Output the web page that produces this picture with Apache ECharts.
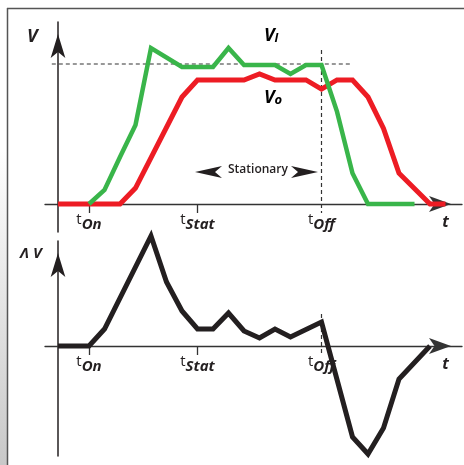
<!DOCTYPE html>
<html><head><meta charset="utf-8">
<script src="https://cdn.jsdelivr.net/npm/echarts@6/dist/echarts.min.js"></script>
<style>html,body{margin:0;padding:0;background:#fff}#c{width:464px;height:465px}</style>
</head><body><div id="c"></div>
<script>
// ---- data (time in arbitrary units, voltage in arbitrary units) ----
const tickTimes = [2, 9, 17];            // tOn, tStat, tOff
const tickNames = ['On', 'Stat', 'Off'];
const axisEndTime = 25;                  // position of the "t" label
const stationaryLevel = 10;              // dashed VI level
const dashedLevelRange = [-0.4, 19];
const inputV = [[2,0],[3,1.0],[4,3.36],[5,5.64],[6,11.14],[8,9.79],[10,9.79],[11,11.14],[12,9.93],[14,9.93],[15,9.29],[16,9.93],[17,9.93],[18,6.6],[19,2.2],[20,0],[23,0]];
const outputV = [[0,0],[4,0],[5,1.14],[8,7.64],[9,8.86],[12,8.86],[13,9.29],[14,8.86],[16,8.86],[17,8.21],[18,8.86],[19,8.86],[20,7.64],[21,5.4],[22,2.2],[24,0],[25,0]];
const deltaV = [[0,0],[2,0],[3,1.7],[6,11.0],[7,6.4],[8,3.5],[9,1.7],[10,1.7],[11,3.3],[12,1.5],[13,0.8],[14,1.7],[15,0.9],[17,2.4],[19,-9.1],[20,-10.8],[21,-8.2],[22,-3.3],[24,0]];
const offMarkerTop = [11, -0.65];
const offMarkerBottom = [3.2, -0.9];

// ---- layout ----
const X0 = 58, XS = 15.5;          // px of t=0, px per unit
const XL = 45, XR = 462;
const G1 = {zero: 204, scale: 14, min: -2, max: 13, interval: 1};
const G2 = {zero: 346, scale: 10, min: -11, max: 10.5, interval: 0.5};
[G1, G2].forEach(g => { g.top = g.zero - g.max * g.scale; g.bottom = g.zero - g.min * g.scale; });
const xmin = (XL - X0) / XS, xmax = (XR - X0) / XS;

const INK = '#231f20';
const FONT = '"Open Sans", "DejaVu Sans", sans-serif';
const labelRich = {
  t: {fontSize: 15, fontFamily: FONT, color: INK, verticalAlign: 'top', lineHeight: 20, padding: [0,0,6,0]},
  s: {fontSize: 15, fontFamily: FONT, fontWeight: 'bold', fontStyle: 'italic', color: INK, verticalAlign: 'bottom', lineHeight: 20},
  e: {fontSize: 16, fontFamily: FONT, fontWeight: 'bold', fontStyle: 'italic', color: INK, lineHeight: 20}
};
function fmt(v){
  const i = tickTimes.indexOf(v);
  if (i >= 0) return '{t|t}{s|' + tickNames[i] + '}';
  if (v === axisEndTime) return '{e|t}';
  return '';
}
function xAxis(gi, g){
  return {
    type: 'value', gridIndex: gi, min: xmin, max: xmax, position: 'bottom',
    offset: -(g.bottom - g.zero),
    axisLine: {onZero: false, symbol: ['none','arrow'], symbolSize: [12, 22], symbolOffset: [0, -11],
      lineStyle: {color: '#333', width: 1.3}},
    axisTick: {show: true, length: 9, customValues: tickTimes.slice(0, 2), lineStyle: {color: '#333', width: 1.3}},
    axisLabel: {show: true, customValues: tickTimes.concat([axisEndTime]), formatter: fmt, margin: 8, rich: labelRich},
    splitLine: {show: false}
  };
}
function yAxis(gi, g){
  return {
    type: 'value', gridIndex: gi, min: g.min, max: g.max, interval: g.interval,
    axisLine: {show: true, onZero: true, symbol: ['none','arrow'], symbolSize: [11, 24], symbolOffset: [0, -12],
      lineStyle: {color: INK, width: 1.5}},
    axisTick: {show: false}, axisLabel: {show: false}, splitLine: {show: false}
  };
}
function lineSeries(data, color, width, xi, yi, z){
  return {type: 'line', data: data, xAxisIndex: xi, yAxisIndex: yi, symbol: 'none', clip: false, z: z || 3,
    lineStyle: {color: color, width: width, join: 'miter', cap: 'butt'}, silent: true};
}

const chart = echarts.init(document.getElementById('c'), null, {renderer: 'canvas'});
chart.setOption({
  animation: false,
  backgroundColor: '#fff',
  grid: [
    {left: XL, right: 464 - XR, top: G1.top, height: G1.bottom - G1.top},
    {left: XL, right: 464 - XR, top: G2.top, height: G2.bottom - G2.top}
  ],
  xAxis: [xAxis(0, G1), xAxis(1, G2)],
  yAxis: [yAxis(0, G1), yAxis(1, G2)],
  series: [
    lineSeries([[dashedLevelRange[0], stationaryLevel],[dashedLevelRange[1], stationaryLevel]], '#333', 1.2, 0, 0, 2),
    lineSeries([[tickTimes[2], offMarkerTop[0]],[tickTimes[2], offMarkerTop[1]]], '#333', 1.2, 0, 0, 2),
    lineSeries([[tickTimes[2], offMarkerBottom[0]],[tickTimes[2], offMarkerBottom[1]]], '#333', 1.2, 1, 1, 2),
    lineSeries(outputV, '#ed1c24', 5, 0, 0, 3),
    lineSeries(inputV, '#39b54a', 4.5, 0, 0, 4),
    lineSeries(deltaV, INK, 5, 1, 1, 3)
  ].map((s, i) => { if (i < 3) s.lineStyle.type = [4, 3]; return s; }),
  graphic: [
    {type: 'rect', shape: {x: 0, y: 150, width: 7, height: 315}, silent: true,
      style: {fill: new echarts.graphic.LinearGradient(0, 0, 0, 1, [{offset: 0, color: '#ffffff'}, {offset: 1, color: '#c8c8c8'}])}},
    {type: 'line', shape: {x1: 7, y1: 8.5, x2: 464, y2: 8.5}, style: {stroke: '#555', lineWidth: 1.5}, silent: true},
    {type: 'line', shape: {x1: 7.5, y1: 8, x2: 7.5, y2: 465}, style: {stroke: '#555', lineWidth: 1.5}, silent: true},
    {type: 'text', left: 27, top: 28, silent: true,
      style: {text: 'V', font: 'italic bold 18px ' + FONT, fill: INK}},
    {type: 'text', left: 264, top: 27, silent: true,
      style: {text: '{a|V}{b|I}', rich: {a: {font: 'italic bold 18px ' + FONT, color: INK}, b: {font: 'italic bold 12px ' + FONT, color: INK, verticalAlign: 'bottom'}}}},
    {type: 'text', left: 264, top: 89, silent: true,
      style: {text: '{a|V}{b|o}', rich: {a: {font: 'italic bold 18px ' + FONT, color: INK}, b: {font: 'italic bold 13px ' + FONT, color: INK, verticalAlign: 'bottom'}}}},
    {type: 'text', left: 20, top: 246, silent: true,
      style: {text: 'Λ V', font: 'italic bold 15px ' + FONT, fill: INK}},
    {type: 'text', left: 228, top: 164, silent: true,
      style: {text: 'Stationary', font: '600 12px ' + FONT, fill: INK}},
    {type: 'polygon', silent: true, shape: {points: [[195,172],[222,166],[215,172],[222,178]]}, style: {fill: INK}},
    {type: 'polygon', silent: true, shape: {points: [[318,172],[291,166],[298,172],[291,178]]}, style: {fill: INK}}
  ]
});
</script></body></html>
